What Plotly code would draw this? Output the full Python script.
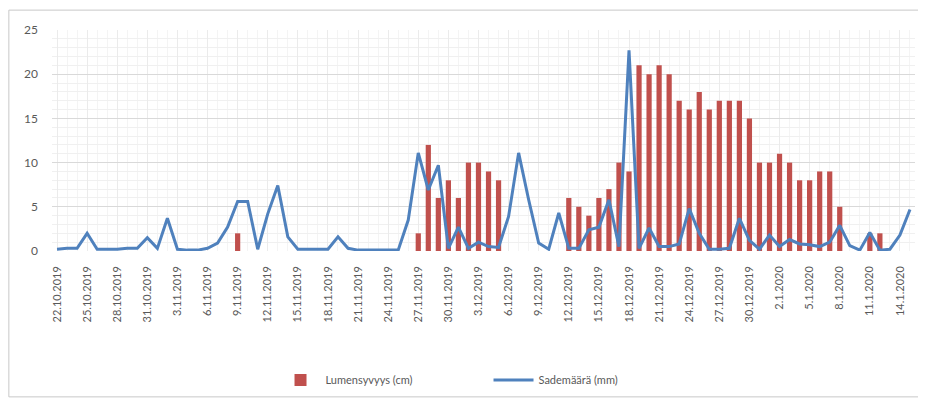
import pandas as pd
import plotly.graph_objects as go

# daily observations 22.10.2019 - 15.1.2020
days = pd.date_range('2019-10-22', '2020-01-15', freq='D')

# Lumensyvyys (cm), snow depth
snow_depth = [
    0, 0, 0, 0, 0, 0, 0, 0, 0, 0,
    0, 0, 0, 0, 0, 0, 0, 0, 2, 0,
    0, 0, 0, 0, 0, 0, 0, 0, 0, 0,
    0, 0, 0, 0, 0, 0, 2, 12, 6, 8,
    6, 10, 10, 9, 8, 0, 0, 0, 0, 0,
    0, 6, 5, 4, 6, 7, 10, 9, 21, 20,
    21, 20, 17, 16, 18, 16, 17, 17, 17, 15,
    10, 10, 11, 10, 8, 8, 9, 9, 5, 0,
    0, 2, 2, 0, 0, 0,
]

# Sademäärä (mm), precipitation
rain = [
    0.2, 0.3, 0.3, 2.0, 0.2, 0.2, 0.2, 0.3, 0.3, 1.5,
    0.3, 3.7, 0.2, 0.1, 0.1, 0.3, 0.9, 2.7, 5.6, 5.6,
    0.2, 4.2, 7.4, 1.6, 0.2, 0.2, 0.2, 0.2, 1.6, 0.3,
    0.1, 0.1, 0.1, 0.1, 0.1, 3.5, 11.1, 6.9, 9.7, 0.3,
    2.7, 0.3, 1.0, 0.5, 0.4, 3.9, 11.1, 5.8, 0.9, 0.2,
    4.3, 0.3, 0.3, 2.4, 2.7, 5.8, 0.5, 22.7, 0.3, 2.6,
    0.5, 0.5, 0.8, 4.8, 2.0, 0.2, 0.2, 0.3, 3.7, 1.2,
    0.2, 1.8, 0.5, 1.3, 0.8, 0.7, 0.5, 1.0, 2.9, 0.6,
    0.1, 2.1, 0.1, 0.2, 1.8, 4.7,
]

y_ticks = [0, 5, 10, 15, 20, 25]

font = 'Lato, Open Sans, sans-serif'
grey = '#595959'

fig = go.Figure()
fig.add_trace(go.Bar(x=days, y=snow_depth, name='Lumensyvyys (cm)',
                     marker=dict(color='#C0504D', line=dict(width=0))))
fig.add_trace(go.Scatter(x=days, y=rain, mode='lines', name='Sademäärä (mm)',
                         line=dict(color='#4F81BD', width=3)))

# page body has an 8px margin, so the figure is sized to fit inside the window
fig.update_layout(
    width=918, height=392,
    margin=dict(l=44, r=11, t=22, b=149),
    paper_bgcolor='white', plot_bgcolor='white',
    font=dict(family=font, size=11, color=grey),
    bargap=0.48,
    showlegend=True,
    legend=dict(orientation='h', x=0.259, xanchor='left',
                yref='container', y=0.051, yanchor='middle',
                font=dict(size=11, color=grey), entrywidth=158, itemwidth=40),
)

fig.update_xaxes(
    range=[days[0] - pd.Timedelta(hours=12), days[-1] + pd.Timedelta(hours=12)],
    tick0=days[0], dtick=3 * 86400000, tickformat='%-d.%-m.%Y', tickangle=-90,
    showgrid=True, gridcolor='#ebebeb', gridwidth=1,
    minor=dict(dtick=86400000, showgrid=True, gridcolor='#f4f4f4'),
    showline=False, ticks='', tickfont=dict(size=11, color=grey),
    ticklabelstandoff=12, automargin=False,
)
fig.update_yaxes(
    range=[0, 25], tickvals=y_ticks, showgrid=True, gridcolor='#d9d9d9',
    minor=dict(dtick=1, showgrid=True, gridcolor='#f0f0f0'),
    zeroline=False, showline=False, ticks='', tickfont=dict(size=12, color=grey),
    ticklabelstandoff=13, automargin=False,
)

# outer chart frame
fig.add_shape(type='rect', xref='paper', yref='paper',
              x0=-0.05, x1=1.007, y0=-0.66, y1=1.09,
              line=dict(color='#c8c8c8', width=1), layer='below')

fig.write_html('out.html')
